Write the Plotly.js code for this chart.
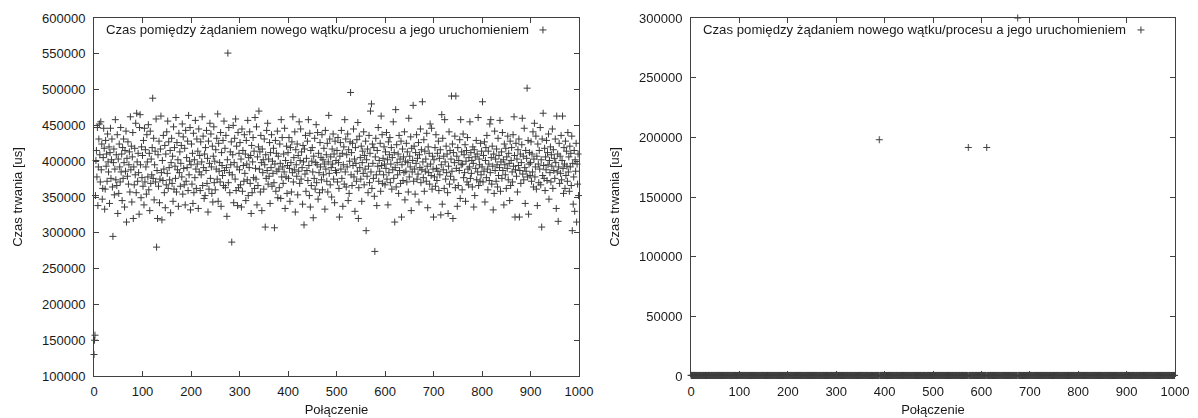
<!DOCTYPE html>
<html>
<head>
<meta charset="utf-8">
<script src="https://cdn.plot.ly/plotly-3.0.1.min.js"></script>
<style>html,body{margin:0;padding:0;background:#fff;}#chart{width:1198px;height:418px;}</style>
</head>
<body>
<div id="chart"></div>
<script>
// Left panel: time between request for a new thread/process and its start [us], connections 0..999
const delayLeft = [
130e3,150e3,157e3,352e3,401e3,415e3,378e3,447e3,338e3,392e3,431e3,452e3,409e3,371e3,455e3,388e3,424e3,347e3,362e3,405e3,
446e3,418e3,333e3,361e3,429e3,393e3,410e3,372e3,438e3,399e3,385e3,420e3,341e3,412e3,446e3,376e3,402e3,431e3,364e3,295e3,
398e3,417e3,353e3,389e3,458e3,374e3,409e3,366e3,437e3,327e3,403e3,355e3,424e3,392e3,371e3,447e3,385e3,410e3,345e3,419e3,
376e3,431e3,398e3,336e3,415e3,386e3,442e3,315e3,404e3,379e3,427e3,368e3,395e3,413e3,357e3,462e3,388e3,421e3,343e3,406e3,
440e3,320e3,392e3,367e3,418e3,381e3,453e3,356e3,467e3,399e3,372e3,411e3,384e3,326e3,447e3,465e3,395e3,349e3,420e3,377e3,
408e3,365e3,429e3,339e3,446e3,371e3,416e3,392e3,354e3,437e3,399e3,378e3,451e3,360e3,411e3,331e3,442e3,369e3,403e3,381e3,
419e3,488e3,376e3,432e3,346e3,395e3,414e3,371e3,459e3,280e3,387e3,320e3,409e3,365e3,428e3,342e3,375e3,417e3,463e3,384e3,
318e3,401e3,373e3,436e3,389e3,356e3,422e3,335e3,410e3,367e3,441e3,383e3,456e3,362e3,427e3,391e3,374e3,415e3,328e3,398e3,
432e3,369e3,407e3,344e3,448e3,361e3,419e3,393e3,376e3,461e3,357e3,426e3,388e3,402e3,337e3,439e3,384e3,413e3,365e3,397e3,
422e3,378e3,452e3,354e3,434e3,390e3,367e3,418e3,339e3,443e3,372e3,405e3,391e3,428e3,359e3,464e3,381e3,400e3,447e3,332e3,
395e3,424e3,368e3,411e3,341e3,439e3,356e3,402e3,377e3,457e3,389e3,362e3,431e3,396e3,414e3,334e3,445e3,385e3,408e3,359e3,
427e3,381e3,399e3,462e3,366e3,435e3,391e3,348e3,410e3,352e3,419e3,387e3,443e3,369e3,404e3,329e3,428e3,361e3,397e3,453e3,
376e3,438e3,392e3,355e3,421e3,343e3,407e3,448e3,370e3,400e3,360e3,416e3,389e3,432e3,375e3,466e3,344e3,425e3,386e3,398e3,
371e3,440e3,337e3,412e3,394e3,380e3,429e3,366e3,456e3,387e3,418e3,363e3,436e3,391e3,323e3,402e3,551e3,370e3,447e3,384e3,
356e3,413e3,395e3,427e3,287e3,381e3,409e3,450e3,342e3,398e3,432e3,375e3,459e3,359e3,421e3,392e3,338e3,440e3,363e3,411e3,
388e3,426e3,367e3,403e3,336e3,445e3,358e3,415e3,394e3,372e3,437e3,383e3,410e3,345e3,429e3,396e3,374e3,457e3,352e3,405e3,
391e3,441e3,369e3,408e3,327e3,422e3,356e3,399e3,433e3,377e3,414e3,362e3,461e3,390e3,375e3,448e3,339e3,406e3,366e3,420e3,
470e3,389e3,413e3,357e3,436e3,398e3,331e3,417e3,384e3,402e3,361e3,431e3,395e3,308e3,409e3,376e3,443e3,387e3,453e3,368e3,
403e3,379e3,426e3,341e3,412e3,391e3,437e3,365e3,400e3,383e3,418e3,370e3,307e3,396e3,429e3,358e3,411e3,386e3,442e3,349e3,
407e3,389e3,363e3,424e3,397e3,348e3,458e3,378e3,433e3,392e3,369e3,410e3,385e3,446e3,334e3,401e3,378e3,421e3,355e3,394e3,
412e3,376e3,433e3,390e3,344e3,419e3,398e3,357e3,427e3,384e3,462e3,371e3,405e3,388e3,441e3,329e3,416e3,395e3,379e3,424e3,
353e3,408e3,386e3,455e3,369e3,401e3,445e3,375e3,413e3,391e3,340e3,422e3,399e3,311e3,417e3,382e3,436e3,358e3,404e3,387e3,
428e3,373e3,458e3,394e3,352e3,439e3,336e3,415e3,366e3,400e3,419e3,385e3,321e3,407e3,376e3,432e3,361e3,398e3,451e3,370e3,
395e3,440e3,347e3,411e3,384e3,356e3,426e3,392e3,405e3,374e3,437e3,360e3,402e3,381e3,418e3,396e3,333e3,443e3,389e3,409e3,
372e3,425e3,357e3,399e3,464e3,383e3,431e3,367e3,406e3,391e3,350e3,417e3,396e3,438e3,375e3,410e3,342e3,428e3,387e3,401e3,
384e3,415e3,371e3,433e3,398e3,362e3,322e3,407e3,426e3,389e3,443e3,376e3,411e3,337e3,395e3,420e3,368e3,458e3,385e3,431e3,
364e3,409e3,392e3,438e3,345e3,416e3,355e3,400e3,427e3,496e3,381e3,412e3,366e3,425e3,394e3,445e3,378e3,403e3,330e3,419e3,
397e3,372e3,430e3,386e3,454e3,320e3,363e3,435e3,391e3,405e3,375e3,421e3,344e3,398e3,414e3,383e3,441e3,367e3,408e3,389e3,
428e3,303e3,402e3,379e3,417e3,356e3,393e3,436e3,370e3,411e3,470e3,385e3,480e3,362e3,424e3,397e3,376e3,419e3,351e3,274e3,
406e3,432e3,381e3,338e3,415e3,393e3,447e3,372e3,401e3,386e3,425e3,358e3,463e3,394e3,437e3,369e3,404e3,381e3,420e3,396e3,
367e3,413e3,390e3,440e3,375e3,402e3,339e3,427e3,384e3,409e3,433e3,370e3,396e3,419e3,361e3,405e3,388e3,455e3,376e3,412e3,
315e3,391e3,472e3,364e3,423e3,398e3,381e3,410e3,355e3,436e3,387e3,403e3,369e3,428e3,322e3,395e3,417e3,373e3,406e3,384e3,
441e3,346e3,400e3,386e3,425e3,371e3,413e3,398e3,357e3,460e3,378e3,407e3,392e3,434e3,331e3,418e3,385e3,401e3,478e3,372e3,
421e3,389e3,354e3,412e3,397e3,437e3,375e3,404e3,382e3,426e3,343e3,409e3,391e3,445e3,370e3,416e3,388e3,483e3,399e3,377e3,
430e3,358e3,414e3,386e3,403e3,372e3,439e3,393e3,335e3,420e3,384e3,411e3,368e3,452e3,396e3,380e3,446e3,361e3,407e3,389e3,
322e3,402e3,378e3,419e3,365e3,437e3,390e3,373e3,411e3,386e3,428e3,359e3,404e3,381e3,416e3,325e3,395e3,465e3,340e3,432e3,
388e3,407e3,362e3,458e3,399e3,375e3,421e3,384e3,410e3,356e3,327e3,393e3,441e3,368e3,415e3,379e3,403e3,491e3,386e3,424e3,
320e3,412e3,374e3,398e3,435e3,363e3,491e3,390e3,407e3,337e3,419e3,366e3,401e3,387e3,430e3,348e3,458e3,395e3,413e3,360e3,
396e3,438e3,377e3,409e3,384e3,423e3,344e3,400e3,415e3,371e3,433e3,389e3,367e3,405e3,392e3,455e3,376e3,412e3,383e3,401e3,
364e3,420e3,397e3,336e3,416e3,352e3,406e3,390e3,429e3,374e3,410e3,385e3,461e3,366e3,403e3,395e3,372e3,425e3,381e3,414e3,
392e3,483e3,371e3,408e3,386e3,427e3,343e3,401e3,419e3,377e3,436e3,389e3,360e3,414e3,396e3,373e3,452e3,384e3,458e3,405e3,
368e3,421e3,393e3,332e3,410e3,355e3,442e3,387e3,403e3,372e3,417e3,395e3,364e3,432e3,380e3,408e3,391e3,457e3,358e3,399e3,
413e3,376e3,440e3,387e3,402e3,339e3,424e3,395e3,381e3,418e3,362e3,406e3,390e3,435e3,374e3,411e3,397e3,345e3,428e3,366e3,
401e3,419e3,385e3,371e3,437e3,393e3,462e3,408e3,322e3,388e3,425e3,379e3,403e3,357e3,416e3,394e3,431e3,322e3,387e3,410e3,
369e3,398e3,423e3,460e3,382e3,407e3,374e3,446e3,391e3,341e3,415e3,386e3,404e3,502e3,378e3,429e3,326e3,396e3,412e3,380e3,
398e3,427e3,372e3,410e3,385e3,441e3,364e3,403e3,453e3,378e3,392e3,435e3,361e3,407e3,338e3,424e3,396e3,370e3,415e3,389e3,
447e3,367e3,402e3,308e3,431e3,380e3,467e3,394e3,376e3,418e3,359e3,406e3,388e3,429e3,373e3,412e3,395e3,438e3,347e3,401e3,
384e3,420e3,371e3,409e3,393e3,445e3,362e3,416e3,387e3,404e3,376e3,431e3,398e3,334e3,463e3,385e3,410e3,316e3,392e3,425e3,
369e3,407e3,383e3,436e3,374e3,401e3,463e3,390e3,355e3,419e3,396e3,362e3,428e3,380e3,414e3,393e3,372e3,440e3,385e3,406e3,
358e3,421e3,392e3,411e3,366e3,435e3,303e3,397e3,340e3,378e3,415e3,330e3,402e3,386e3,425e3,315e3,396e3,368e3,410e3,352e3
];

// Right panel: same measurement, second run [us], connections 0..999
const delayRight = [
612,438,505,377,420,561,394,483,452,368,529,411,476,390,445,502,359,468,421,537,
384,456,413,498,372,441,519,405,463,389,547,426,371,488,434,409,552,397,474,416,
360,491,429,515,381,458,402,539,447,375,507,419,466,388,532,443,398,481,410,526,
367,452,494,417,383,541,428,470,395,512,436,378,503,461,392,524,415,487,449,370,
518,432,401,476,356,495,440,411,533,384,467,423,509,391,446,372,528,414,485,399,
455,389,521,407,474,362,498,431,416,543,380,462,437,509,393,471,418,356,526,444,
401,489,373,452,517,426,384,469,440,507,365,495,428,413,538,392,457,480,371,425,
514,403,448,376,492,435,519,387,463,410,530,396,474,421,358,501,444,386,527,412,
469,378,433,511,397,484,362,449,425,540,391,458,416,503,374,437,522,406,478,360,
513,429,394,487,446,371,535,418,462,400,377,492,441,408,524,385,456,431,369,510,
427,503,381,466,419,548,392,475,436,364,519,405,451,388,497,412,533,376,459,423,
486,398,542,371,437,509,414,462,383,528,445,367,491,420,453,396,516,432,378,504,
461,389,525,407,473,358,499,441,416,537,382,468,430,512,395,447,521,374,489,408,
535,418,366,480,443,401,527,386,456,420,369,497,434,511,392,465,378,523,409,450,
488,363,416,539,397,472,425,381,506,438,412,530,373,458,421,495,387,444,518,402,
474,355,512,428,393,467,411,546,380,439,503,418,461,372,526,405,448,390,534,416,
369,487,432,509,396,458,421,377,515,442,403,538,385,470,426,361,495,414,453,388,
522,407,447,379,501,433,366,484,419,540,392,461,425,507,374,451,518,398,436,412,
489,367,529,404,443,386,511,420,378,472,437,394,526,415,463,357,498,430,452,409,
383,517,441,470,396,532,418,365,486,198000,427,503,376,459,414,544,391,468,402,435,
518,382,447,409,493,428,361,536,413,456,398,524,437,371,482,419,505,386,463,430,
547,394,416,478,365,509,442,388,521,405,451,372,496,433,417,540,384,469,402,527,
362,488,425,454,391,513,438,376,501,419,466,407,532,383,445,414,490,359,473,436,
520,397,448,411,386,537,424,462,378,505,431,369,484,443,409,516,392,457,421,368,
499,434,402,528,381,465,417,446,373,512,405,489,428,363,541,396,470,418,452,387,
461,524,393,437,408,482,371,515,426,450,389,503,441,367,496,412,538,385,457,420,
533,398,466,414,377,507,431,452,392,519,446,362,488,425,409,541,380,470,403,436,
511,394,458,376,482,429,416,527,368,493,423,447,385,514,400,462,438,371,505,418,
379,526,433,408,491,364,454,420,537,396,468,411,442,191500,383,510,427,395,476,452,
366,499,414,532,389,458,424,401,487,372,521,435,409,466,382,544,418,447,391,503,
426,497,364,458,431,512,385,469,402,538,378,191500,447,415,501,390,463,427,372,520,
409,481,436,399,545,386,452,418,503,367,474,429,511,394,446,381,529,414,460,405,
397,518,432,375,489,421,457,363,506,441,530,388,467,412,398,524,435,376,493,419,
454,366,508,427,443,391,536,406,470,384,415,502,449,371,487,300000,429,513,396,458,
381,523,404,466,437,358,497,420,451,393,511,428,375,482,416,540,398,463,422,386,
493,407,452,378,526,431,398,469,415,504,369,487,440,421,538,386,459,403,515,427,
448,381,496,412,367,523,435,472,394,509,420,363,481,446,402,531,389,457,430,374,
516,408,463,391,528,417,443,380,499,425,361,507,432,455,396,484,413,537,372,468,
441,389,520,404,476,428,365,511,437,452,398,529,414,381,492,446,407,535,376,463,
425,501,388,457,419,366,512,433,478,395,540,411,447,373,505,426,392,468,434,409,
387,514,436,462,401,527,378,455,419,496,443,370,508,424,389,533,412,467,398,521,
364,485,431,449,377,510,406,472,392,538,428,459,383,517,441,402,495,368,463,416,
531,394,450,413,487,436,375,524,409,466,382,503,427,444,398,536,418,461,371,492,
457,405,529,386,474,432,363,512,445,420,497,379,438,415,521,391,469,404,546,384,
411,478,433,366,505,424,452,397,518,437,373,490,416,463,400,532,387,448,426,371,
509,433,468,392,521,415,446,380,497,428,364,513,439,405,482,421,537,398,456,371,
527,410,443,387,501,432,465,376,518,403,452,389,494,426,361,534,417,471,399,508,
437,383,520,444,412,490,365,479,428,545,396,461,418,503,375,447,434,526,391,458,
414,372,498,437,409,532,385,466,420,481,363,515,442,397,487,425,451,379,529,406,
473,418,395,511,436,368,502,447,413,539,390,458,427,374,496,441,405,520,382,467
];

const seriesName = 'Czas pomiędzy żądaniem nowego wątku/procesu a jego uruchomieniem';
const xTitle = 'Połączenie';
const yTitle = 'Czas trwania [us]';
const connLeft = delayLeft.map((_, i) => i);
const connRight = delayRight.map((_, i) => i);

const FONT = 'Liberation Sans, Arial, Helvetica, sans-serif';
const INK = '#1a1a1a';
const AX = '#404040';

const marker = {symbol: 'cross-thin', size: 5, color: INK, line: {width: 1, color: INK}};

const traces = [
  {type: 'scatter', mode: 'markers', x: connLeft, y: delayLeft, xaxis: 'x', yaxis: 'y',
   name: ' ', marker: marker, opacity: 0.85, cliponaxis: false, legend: 'legend', hoverinfo: 'x+y'},
  {type: 'scatter', mode: 'markers', x: connRight, y: delayRight, xaxis: 'x2', yaxis: 'y2',
   name: ' ', marker: marker, opacity: 0.85, cliponaxis: false, legend: 'legend2', hoverinfo: 'x+y'}
];

function xAxis(domain, anchor) {
  return {domain: domain, anchor: anchor, range: [0, 1000], tick0: 0, dtick: 100,
    ticks: 'inside', ticklen: 5, tickwidth: 1, tickcolor: AX, showline: true, linecolor: AX, linewidth: 1,
    mirror: 'ticks', showgrid: false, zeroline: false, ticklabelstandoff: 3,
    tickfont: {size: 13, color: INK}, title: {text: xTitle, font: {size: 13, color: INK}, standoff: 7}};
}
function yAxis(range, dtick, anchor) {
  return {anchor: anchor, range: range, dtick: dtick, tickformat: 'd',
    ticks: 'inside', ticklen: 5, tickwidth: 1, tickcolor: AX, showline: true, linecolor: AX, linewidth: 1,
    mirror: 'ticks', showgrid: false, zeroline: false, ticklabelstandoff: 5,
    tickfont: {size: 13, color: INK}, title: {text: yTitle, font: {size: 13, color: INK}, standoff: 16}};
}
function legendBox(x) {
  return {x: x, xanchor: 'left', y: 0.9665, yanchor: 'middle', bgcolor: 'rgba(0,0,0,0)', borderwidth: 0,
    font: {size: 13, color: INK}, itemwidth: 30};
}

const layout = {
  width: 1198, height: 418,
  margin: {l: 94, r: 23, t: 18, b: 42},
  paper_bgcolor: '#fff', plot_bgcolor: '#fff',
  font: {family: FONT, size: 13, color: INK},
  showlegend: true,
  xaxis: xAxis([0, 0.4487], 'y'),
  yaxis: yAxis([100000, 600000], 50000, 'x'),
  xaxis2: xAxis([0.5523, 1], 'y2'),
  yaxis2: yAxis([0, 300000], 50000, 'x2'),
  legend: legendBox(0.3968),
  legend2: legendBox(0.9500),
  annotations: [
    {xref: 'paper', yref: 'paper', x: 0.0093, y: 0.9665, xanchor: 'left', yanchor: 'middle',
     text: seriesName, showarrow: false, font: {size: 13.2, color: INK}},
    {xref: 'paper', yref: 'paper', x: 0.5616, y: 0.9665, xanchor: 'left', yanchor: 'middle',
     text: seriesName, showarrow: false, font: {size: 13.2, color: INK}}
  ]
};

Plotly.newPlot('chart', traces, layout, {displayModeBar: false, staticPlot: true});
</script>
</body>
</html>
